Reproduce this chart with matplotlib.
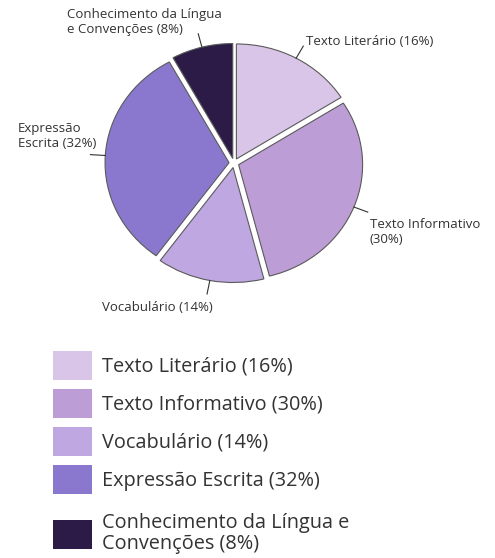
import numpy as np
import matplotlib
matplotlib.use("Agg")
import matplotlib.pyplot as plt

plt.rcParams['font.family'] = ['Open Sans', 'DejaVu Sans']

categories = ['Texto Literário', 'Texto Informativo', 'Vocabulário',
              'Expressão Escrita', 'Conhecimento da Língua e Convenções']
shares = [16, 30, 14, 32, 8]
colors = ['#d8c5e7', '#bd9dd6', '#bfa7e1', '#8a78cf', '#2c1b47']
chart_labels = ['Texto Literário (16%)', 'Texto Informativo\n(30%)',
                'Vocabulário (14%)', 'Expressão\nEscrita (32%)',
                'Conhecimento da Língua\ne Convenções (8%)']
legend_labels = ['Texto Literário (16%)', 'Texto Informativo (30%)',
                 'Vocabulário (14%)', 'Expressão Escrita (32%)',
                 'Conhecimento da Língua e\nConvenções (8%)']

# label placement: (ha, va, dx, dy) in pixels from leader end
label_pos = [('left', 'center', 3, 5),
             ('left', 'top', 2, -6),
             ('right', 'top', 6, -7),
             ('right', 'bottom', 6, 5),
             ('right', 'bottom', 24, -2)]

W, H = 495, 558
fig = plt.figure(figsize=(W / 100, H / 100), dpi=100)
ax = fig.add_axes([48 / W, 245.5 / H, 372 / W, 299 / H])

explode = [0.04] * len(shares)
wedges, _ = ax.pie(shares, colors=colors, startangle=90, counterclock=False,
                   explode=explode,
                   wedgeprops=dict(edgecolor='#5a5a5a', linewidth=0.8))
ax.set_aspect('auto')
ax.set_xlim(-1.5, 1.5)
ax.set_ylim(-1.3, 1.3)
ax.axis('off')

for w, lab, (ha, va, dx, dy), ex in zip(wedges, chart_labels, label_pos, explode):
    ang = np.deg2rad((w.theta1 + w.theta2) / 2)
    r0, r1 = 1.0 + ex, 1.0 + ex + 0.12
    x0, y0 = r0 * np.cos(ang), r0 * np.sin(ang)
    x1, y1 = r1 * np.cos(ang), r1 * np.sin(ang)
    ax.plot([x0, x1], [y0, y1], color='#333333', lw=0.8)
    ax.annotate(lab, xy=(x1, y1), xytext=(dx, dy), textcoords='offset pixels',
                ha=ha, va=va, multialignment='left', fontsize=9.5,
                color='#333333')

leg_kw = dict(loc='upper left', frameon=False, fontsize=14.3,
              handlelength=1.96, handleheight=1.87, handletextpad=0.5,
              labelspacing=0.45, borderpad=0, borderaxespad=0,
              labelcolor='#333333')
# first four entries, then the two-line entry with a bit more room above it
leg1 = fig.legend(wedges[:4], legend_labels[:4],
                  bbox_to_anchor=(53 / W, 1 - 351 / H), **leg_kw)
leg2 = fig.legend(wedges[4:], legend_labels[4:],
                  bbox_to_anchor=(53 / W, 1 - 513 / H), **leg_kw)
for leg in (leg1, leg2):
    for h in leg.legend_handles:
        h.set_edgecolor('none')
leg2.get_texts()[0].set_linespacing(1.06)

fig.savefig('out.png', dpi=100)
